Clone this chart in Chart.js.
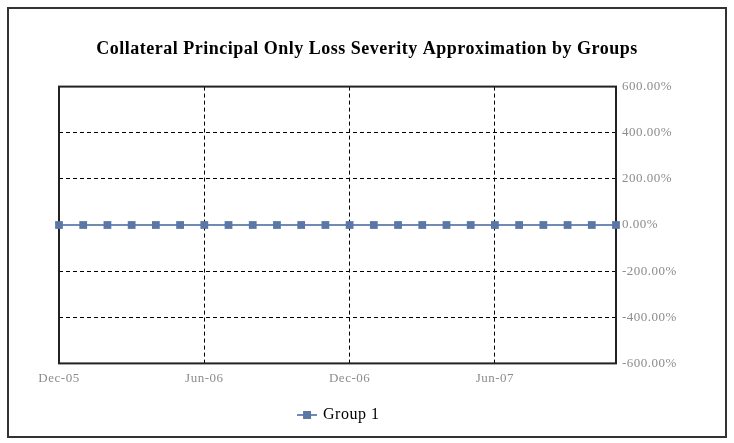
<!DOCTYPE html>
<html>
<head>
<meta charset="utf-8">
<script src="https://cdn.jsdelivr.net/npm/chart.js@4.4.0/dist/chart.umd.min.js"></script>
<style>
  html, body { margin: 0; padding: 0; background: #fff; }
  #wrap { position: relative; width: 734px; height: 443px; }
</style>
</head>
<body>
<div id="wrap"><canvas id="myChart"></canvas></div>
<script>
const months = [
  "Dec-05",
  "Jan-06", "Feb-06", "Mar-06", "Apr-06", "May-06", "Jun-06",
  "Jul-06", "Aug-06", "Sep-06", "Oct-06", "Nov-06", "Dec-06",
  "Jan-07", "Feb-07", "Mar-07", "Apr-07", "May-07", "Jun-07",
  "Jul-07", "Aug-07", "Sep-07", "Oct-07", "Nov-07"
];
// loss severity in %, flat at zero for every month
const group1 = [0, 0, 0, 0, 0, 0, 0, 0, 0, 0, 0, 0, 0, 0, 0, 0, 0, 0, 0, 0, 0, 0, 0, 0];
const yMin = -600;
const yMax = 600;
const yStep = 200;

const lineColor = "#7189b5";
const markColor = "#5b77a6";
const serif = "'Liberation Serif', 'Times New Roman', serif";

// legend icon: short line with a square on it
const legendIcon = document.createElement("canvas");
legendIcon.width = 20;
legendIcon.height = 10;
const ic = legendIcon.getContext("2d");
ic.strokeStyle = lineColor;
ic.lineWidth = 2;
ic.beginPath();
ic.moveTo(0, 5);
ic.lineTo(20, 5);
ic.stroke();
ic.fillStyle = markColor;
ic.fillRect(6, 1, 8, 8);

const framePlugin = {
  id: "frame",
  beforeDraw(chart) {
    const ctx = chart.ctx;
    ctx.save();
    ctx.fillStyle = "#fff";
    ctx.fillRect(0, 0, chart.width, chart.height);
    ctx.strokeStyle = "#333";
    ctx.lineWidth = 2;
    ctx.strokeRect(8, 8, chart.width - 16, chart.height - 14);
    ctx.restore();
    // the old excel picture has slightly spaced-out text
    ctx.letterSpacing = "0.5px";
  },
  beforeDatasetsDraw(chart) {
    const a = chart.chartArea;
    const ctx = chart.ctx;
    ctx.save();
    ctx.strokeStyle = "#222";
    ctx.lineWidth = 2;
    ctx.strokeRect(a.left, a.top, a.right - a.left, a.bottom - a.top);
    ctx.restore();
  }
};

const myChart = document.getElementById("myChart");

let lineChart = new Chart(myChart, {
  type: "line",
  data: {
    labels: months,
    datasets: [
      {
        label: "Group 1",
        data: group1,
        borderColor: lineColor,
        borderWidth: 2,
        backgroundColor: markColor,
        pointStyle: "rect",
        pointRadius: 5.5,
        pointBackgroundColor: markColor,
        pointBorderColor: markColor,
        pointBorderWidth: 0,
        clip: false,
      },
    ],
  },
  options: {
    responsive: true,
    maintainAspectRatio: false,
    animation: false,
    layout: {
      padding: { left: 0, right: 0, top: 0, bottom: 10 },
    },
    plugins: {
      title: {
        display: true,
        text: "Collateral Principal Only Loss Severity Approximation by Groups",
        color: "#000",
        font: { family: serif, size: 18, weight: "bold" },
        padding: { top: 39, bottom: 26 },
      },
      legend: {
        position: "bottom",
        fullSize: false,
        labels: {
          usePointStyle: true,
          pointStyle: legendIcon,
          color: "#000",
          font: { family: serif, size: 16 },
          padding: 12,
        },
      },
      tooltip: { enabled: false },
    },
    scales: {
      x: {
        afterFit: (s) => { s.height = s.height + 2; },
        grid: {
          drawTicks: false,
          color: (c) => (c.index % 6 === 0 && c.index > 0 ? "#000" : "rgba(0,0,0,0)"),
          lineWidth: 1,
        },
        border: { display: false, dash: [4, 3] },
        ticks: {
          autoSkip: false,
          maxRotation: 0,
          padding: 7,
          color: "#8c8c8c",
          font: { family: serif, size: 13 },
          callback: function (val, i) {
            return i % 6 === 0 ? this.getLabelForValue(val) : "";
          },
        },
      },
      // empty left axis, only keeps the plot off the left edge
      yLeft: {
        position: "left",
        afterFit: (s) => { s.width = 59; },
        grid: { display: false },
        border: { display: false },
        ticks: { display: false },
      },
      y: {
        position: "right",
        min: yMin,
        max: yMax,
        afterFit: (s) => { s.width = 118; },
        grid: {
          drawTicks: false,
          color: (c) => {
            const v = c.tick ? c.tick.value : 0;
            return v === 0 || v === yMin || v === yMax ? "rgba(0,0,0,0)" : "#000";
          },
          lineWidth: 1,
        },
        border: { display: false, dash: [4, 3] },
        ticks: {
          stepSize: yStep,
          padding: 6,
          color: "#8c8c8c",
          font: { family: serif, size: 13 },
          callback: (v) => v.toFixed(2) + "%",
        },
      },
    },
  },
  plugins: [framePlugin],
});
</script>
</body>
</html>
